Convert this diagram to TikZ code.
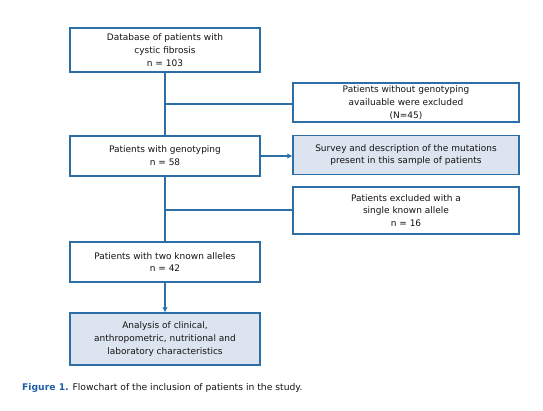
\documentclass[tikz,border=0pt]{standalone}
\usepackage{fontspec}
\setmainfont{DejaVu Sans}
\usetikzlibrary{positioning, arrows.meta}
\definecolor{fLine}{HTML}{2C6FA6}
\definecolor{fFill}{HTML}{DCE4EF}
\definecolor{fText}{HTML}{141414}
\definecolor{fCap}{HTML}{1F5FA8}

\begin{document}
\begin{tikzpicture}[x=1pt, y=-1pt,
  every node/.style={font=\fontsize{9}{12.8}\selectfont, text=fText},
  main/.style={draw=fLine, line width=1.2pt, fill=white, align=center,
               minimum width=190pt, inner sep=2pt},
  side/.style={draw=fLine, line width=1.2pt, fill=white, align=center,
               minimum width=226pt, inner sep=2pt},
  shade/.style={fill=fFill},
  link/.style={fLine, line width=1.3pt},
  arr/.style={link, -{Latex[length=5pt, width=5.5pt]}},
]
  \useasboundingbox (0,0) rectangle (543,410);

  \node[main, minimum height=44pt] (db) at (165,50)
    {Database of patients with\\cystic fibrosis\\n = 103};
  \node[side, minimum height=39pt] (nogeno) at (406,102.5)
    {Patients without genotyping\\availuable were excluded\\(N=45)};
  \node[main, minimum height=40pt] (geno) at (165,156)
    {Patients with genotyping\\n = 58};
  \node[side, shade, minimum height=39pt] (survey) at (406,155)
    {Survey and description of the mutations\\present in this sample of patients};
  \node[side, minimum height=47pt] (single) at (406,210.5)
    {Patients excluded with a\\single known allele\\n = 16};
  \node[main, minimum height=40pt] (two) at (165,262)
    {Patients with two known alleles\\n = 42};
  \node[main, shade, minimum height=52pt] (analysis) at (165,339)
    {Analysis of clinical,\\anthropometric, nutritional and\\laboratory characteristics};

  % branch points
  \coordinate (b1) at (165,104);
  \coordinate (b2) at (165,210);

  \draw[link] (db.south) -- (geno.north);
  \draw[link] (b1) -- (b1 -| nogeno.west);
  \draw[arr] (geno.east) -- (geno.east -| survey.west);
  \draw[link] (geno.south) -- (two.north);
  \draw[link] (b2) -- (b2 -| single.west);
  \draw[arr] (two.south) -- (analysis.north);

  % Caption
  \node[anchor=west, inner sep=0pt, font=\fontsize{9.2}{11}\selectfont] (cap) at (22,388)
    {\textcolor{fCap}{\textbf{Figure 1.}} Flowchart of the inclusion of patients in the study.};
\end{tikzpicture}
\end{document}
